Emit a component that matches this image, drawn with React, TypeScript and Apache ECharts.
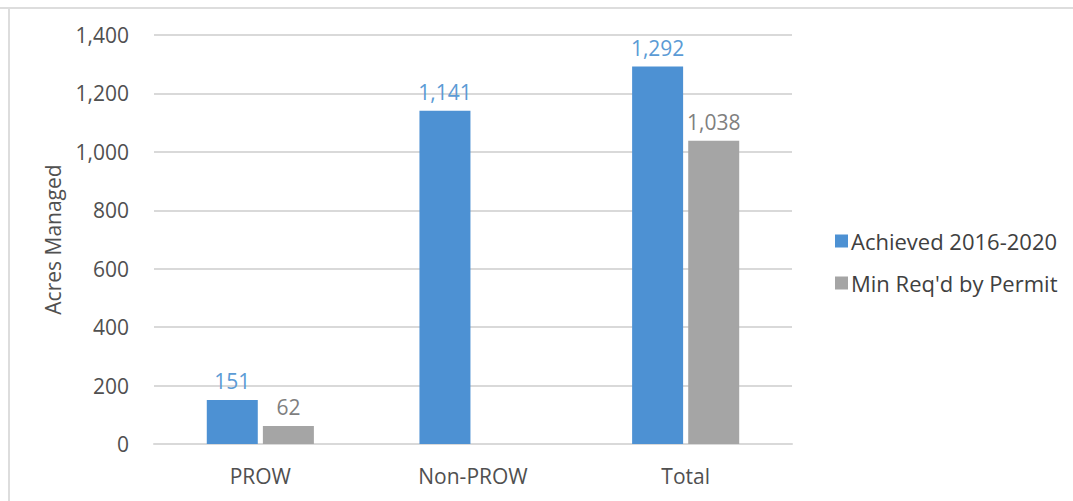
import React, { useEffect, useRef } from "react";
import * as echarts from "echarts";

const categories = ["PROW", "Non-PROW", "Total"];
const achieved = [151, 1141, 1292];
const minRequired: (number | null)[] = [62, null, 1038];
const seriesNames = ["Achieved 2016-2020", "Min Req'd by Permit"];
const yTicks = { min: 0, max: 1400, interval: 200 };

const BLUE = "#4D91D3";
const GRAY = "#A5A5A5";
const FONT = "'Open Sans', sans-serif";

const fmt = (v: number) => v.toLocaleString("en-US");

export default function App() {
  const ref = useRef<HTMLDivElement>(null);

  useEffect(() => {
    if (!ref.current) return;
    const chart = echarts.init(ref.current, undefined, { renderer: "svg" });
    chart.setOption({
      animation: false,
      backgroundColor: "#ffffff",
      textStyle: { fontFamily: FONT },
      grid: { left: 154, right: 281, top: 35, bottom: 57 },
      legend: {
        orient: "vertical",
        left: 830,
        top: 225,
        itemWidth: 13,
        itemHeight: 13,
        itemGap: 20,
        icon: "rect",
        textStyle: { fontSize: 22, color: "#404040", fontFamily: FONT, padding: [0, 0, 0, -2] },
        data: seriesNames,
      },
      xAxis: {
        type: "category",
        data: categories,
        axisLine: { show: true, lineStyle: { color: "#D9D9D9", width: 2 } },
        axisTick: { show: false },
        axisLabel: { fontSize: 21, color: "#505050", margin: 21, fontFamily: FONT },
      },
      yAxis: {
        type: "value",
        min: yTicks.min,
        max: yTicks.max,
        interval: yTicks.interval,
        name: "Acres Managed",
        nameLocation: "middle",
        nameGap: 91,
        nameTextStyle: { fontSize: 21, color: "#505050", fontFamily: FONT },
        axisLine: { show: false },
        axisTick: { show: false },
        axisLabel: {
          fontSize: 21,
          color: "#505050",
          margin: 25,
          fontFamily: FONT,
          formatter: (v: number) => fmt(v),
        },
        splitLine: { lineStyle: { color: "#D9D9D9", width: 2 } },
      },
      series: [
        {
          name: seriesNames[0],
          type: "bar",
          data: achieved,
          barWidth: 51,
          barGap: "10%",
          itemStyle: { color: BLUE },
          label: {
            show: true,
            position: "top",
            distance: 8,
            fontSize: 21,
            color: "#5B9BD5",
            fontFamily: FONT,
            formatter: (p: any) => fmt(p.value),
          },
        },
        {
          name: seriesNames[1],
          type: "bar",
          data: minRequired,
          barWidth: 51,
          barGap: "10%",
          itemStyle: { color: GRAY },
          label: {
            show: true,
            position: "top",
            distance: 8,
            fontSize: 21,
            color: "#7F7F7F",
            fontFamily: FONT,
            formatter: (p: any) => (p.value == null ? "" : fmt(p.value)),
          },
        },
      ],
      graphic: [
        {
          type: "line",
          shape: { x1: 0, y1: 8, x2: 1073, y2: 8 },
          style: { stroke: "#DDDDDD", lineWidth: 2 },
        },
        {
          type: "line",
          shape: { x1: 9, y1: 8, x2: 9, y2: 501 },
          style: { stroke: "#DDDDDD", lineWidth: 2 },
        },
      ],
    });
    return () => chart.dispose();
  }, []);

  return (
    <div
      ref={ref}
      style={{ position: "fixed", left: 0, top: 0, width: 1073, height: 501 }}
    />
  );
}
